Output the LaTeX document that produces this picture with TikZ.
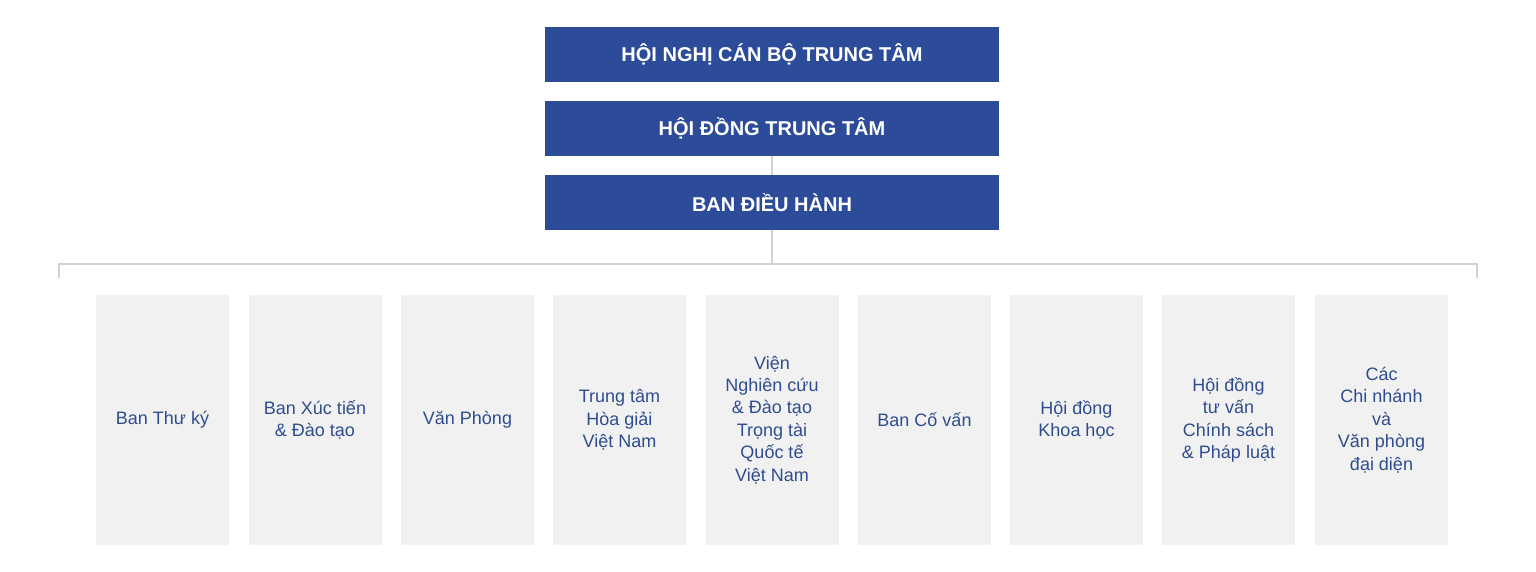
\documentclass[tikz,border=0pt]{standalone}
\usepackage{fontspec}
\setmainfont{Liberation Sans}
\definecolor{topblue}{HTML}{2C4C9A}
\definecolor{unitgray}{HTML}{F1F1F1}
\definecolor{unittext}{HTML}{2F4D8E}
\definecolor{linegray}{HTML}{D2D2D2}
\tikzset{
  topbox/.style={fill=topblue, draw=none, minimum width=454pt, minimum height=55pt, inner sep=0pt,
    text=white, font=\fontsize{20}{24}\selectfont\bfseries},
  unitbox/.style={fill=unitgray, draw=none, minimum width=133pt, minimum height=250pt, inner sep=0pt,
    text=unittext, align=center, font=\fontsize{18}{22.4}\selectfont},
  conn/.style={draw=linegray, line width=2pt}
}
\begin{document}
\begin{tikzpicture}[x=1pt,y=-1pt]
\useasboundingbox (0,0) rectangle (1536,572);
\node[topbox] (hn) at (772,54.5) {HỘI NGHỊ CÁN BỘ TRUNG TÂM};
\node[topbox] (hd) at (772,128.5) {HỘI ĐỒNG TRUNG TÂM};
\node[topbox] (bd) at (772,202.5) {BAN ĐIỀU HÀNH};
\coordinate (mid) at (772,264);
\coordinate (lt) at (59,264);
\coordinate (rt) at (1477,264);
\coordinate (lb) at (59,278);
\coordinate (rb) at (1477,278);
\draw[conn] (hd.south) -- (bd.north);
\draw[conn] (bd.south) -- (mid);
\draw[conn] (lb) -- (lt) -- (rt) -- (rb);
\node[unitbox] (u1) at (162.5,420) {Ban Thư ký};
\node[unitbox] (u2) at (315,420) {Ban Xúc tiến\\\& Đào tạo};
\node[unitbox] (u3) at (467.5,420) {Văn Phòng};
\node[unitbox] (u4) at (619.5,420) {Trung tâm\\Hòa giải\\Việt Nam};
\node[unitbox] (u5) at (772,420) {Viện\\Nghiên cứu\\\& Đào tạo\\Trọng tài\\Quốc tế\\Việt Nam};
\node[unitbox] (u6) at (924.5,420) {Ban Cố vấn};
\node[unitbox] (u7) at (1076.5,420) {Hội đồng\\Khoa học};
\node[unitbox] (u8) at (1228.5,420) {Hội đồng\\tư vấn\\Chính sách\\\& Pháp luật};
\node[unitbox] (u9) at (1381.5,420) {Các\\Chi nhánh\\và\\Văn phòng\\đại diện};
\end{tikzpicture}
\end{document}
